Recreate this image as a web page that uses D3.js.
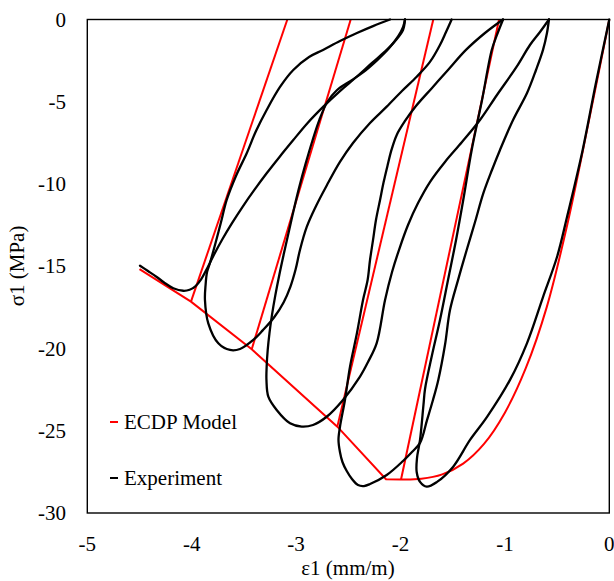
<!DOCTYPE html>
<html>
<head>
<meta charset="utf-8">
<script src="https://cdn.jsdelivr.net/npm/d3@7"></script>
<style>
  html, body { margin: 0; padding: 0; background: #fff; }
  svg { display: block; }
  text { font-family: "Liberation Serif", "Times New Roman", serif; fill: #000; }
</style>
</head>
<body>
<div id="chart"></div>
<script>
// Axis ticks
const xTicks = [-5, -4, -3, -2, -1, 0];
const yTicks = [0, -5, -10, -15, -20, -25, -30];

// ECDP model, pre-peak branch (strain mm/m, stress MPa)
const modelAscending = [
  [0, 0], [-0.2, -6.3], [-0.4, -12.4], [-0.6, -17.5], [-0.8, -21.2],
  [-1.0, -23.9], [-1.2, -25.8], [-1.4, -27.0], [-1.6, -27.65], [-1.8, -27.92],
  [-1.995, -27.96]
];
// ECDP model, softening branch
const modelSoftening = [
  [-1.995, -27.96], [-2.139, -27.95], [-2.605, -24.75], [-3.425, -20.05],
  [-4.007, -17.15], [-4.50, -15.17]
];
// ECDP model, unloading branches (envelope point -> zero stress)
const modelUnloading = [
  [[-4.007, -17.15], [-3.084, 0]],
  [[-3.425, -20.05], [-2.477, 0]],
  [[-2.605, -24.75], [-1.686, 0]],
  [[-1.995, -27.96], [-1.056, 0]]
];

// Experiment: first loading to the peak and unloading
const expLoading = [
  [0, 0], [-0.132, -3.98], [-0.255, -7.93], [-0.405, -12.01], [-0.501, -14.44],
  [-0.635, -16.87], [-0.788, -19.67], [-0.951, -21.91], [-1.171, -24.16],
  [-1.334, -25.56], [-1.497, -27.20], [-1.650, -28.11], [-1.749, -28.40],
  [-1.813, -28.11], [-1.845, -27.51], [-1.842, -26.66], [-1.813, -25.56],
  [-1.780, -23.43], [-1.765, -22.46], [-1.698, -20.40], [-1.622, -18.27],
  [-1.545, -15.84], [-1.468, -13.40], [-1.399, -10.97], [-1.318, -7.93],
  [-1.219, -4.89], [-1.126, -1.85], [-1.076, -0.94], [-1.018, 0]
];
// Experiment: cycle through the second peak
const expCycle1 = [
  [-1.018, 0], [-1.191, -0.82], [-1.373, -1.85], [-1.545, -3.07], [-1.698, -4.16],
  [-1.852, -5.26], [-1.960, -6.20], [-2.035, -7.00], [-2.085, -7.90], [-2.125, -8.90],
  [-2.162, -9.90], [-2.196, -10.97], [-2.235, -12.19], [-2.263, -13.40], [-2.292, -14.62],
  [-2.315, -15.84], [-2.359, -17.05], [-2.417, -19.06], [-2.484, -21.12],
  [-2.532, -23.13], [-2.580, -24.77], [-2.594, -25.56], [-2.580, -26.29],
  [-2.556, -26.90], [-2.515, -27.45], [-2.465, -27.93], [-2.407, -28.30],
  [-2.350, -28.36], [-2.292, -28.24], [-2.132, -27.69], [-1.976, -26.84],
  [-1.890, -26.29], [-1.813, -25.74], [-1.746, -24.35], [-1.689, -23.13],
  [-1.638, -21.91], [-1.574, -19.79], [-1.526, -17.66], [-1.449, -15.84],
  [-1.366, -14.01], [-1.286, -12.31], [-1.207, -10.57], [-1.124, -9.15],
  [-1.047, -7.93], [-0.922, -6.11], [-0.788, -4.47], [-0.702, -3.07],
  [-0.635, -1.85], [-0.597, -0.82], [-0.578, 0]
];
// Experiment: cycle reaching -24.7 MPa
const expCycle2 = [
  [-0.578, 0], [-0.664, -0.76], [-0.760, -1.55], [-0.887, -2.87], [-1.076, -4.59],
  [-1.239, -6.11], [-1.411, -7.45], [-1.574, -8.66], [-1.718, -9.88], [-1.832, -11.16],
  [-1.928, -12.49], [-2.005, -13.83], [-2.081, -15.35], [-2.148, -17.05],
  [-2.228, -19.67], [-2.311, -20.82], [-2.388, -21.71], [-2.551, -23.13],
  [-2.707, -24.15], [-2.838, -24.65], [-2.946, -24.75], [-3.058, -24.55],
  [-3.186, -23.74], [-3.266, -22.93], [-3.284, -21.91], [-3.282, -21.11],
  [-3.272, -20.09], [-3.255, -19.06], [-3.232, -18.0], [-3.200, -16.8],
  [-3.160, -15.5], [-3.116, -14.2], [-3.070, -12.9], [-3.020, -11.5],
  [-2.966, -10.1], [-2.908, -8.75], [-2.845, -7.40], [-2.777, -6.10],
  [-2.700, -5.00], [-2.610, -4.30], [-2.470, -3.70], [-2.356, -3.20],
  [-2.220, -2.45], [-2.110, -1.75], [-2.020, -1.00], [-1.975, -0.45], [-1.957, 0]
];
// Experiment: cycle reaching -20.1 MPa
const expCycle3 = [
  [-1.510, 0], [-1.564, -0.76], [-1.622, -1.55], [-1.718, -2.58], [-1.845, -3.48],
  [-1.986, -4.35], [-2.132, -5.30], [-2.292, -6.29], [-2.455, -7.51], [-2.580, -8.66],
  [-2.704, -10.06], [-2.809, -11.34], [-2.898, -12.61], [-2.963, -14.01],
  [-3.005, -15.20], [-3.055, -16.25], [-3.120, -17.20], [-3.210, -18.10],
  [-3.320, -18.90], [-3.410, -19.48], [-3.537, -20.03], [-3.633, -20.09],
  [-3.745, -19.68], [-3.841, -18.47], [-3.873, -17.05], [-3.867, -16.14],
  [-3.853, -15.35], [-3.825, -14.80], [-3.777, -13.71], [-3.719, -12.31],
  [-3.665, -10.97], [-3.576, -9.51], [-3.473, -8.13], [-3.384, -6.78],
  [-3.282, -5.50], [-3.154, -4.10], [-3.027, -3.07], [-2.876, -2.28],
  [-2.742, -1.85], [-2.580, -1.31], [-2.417, -0.82], [-2.263, -0.40], [-2.101, 0]
];
// Experiment: last reloading and post-peak softening
const expFinal = [
  [-1.957, 0], [-1.976, -0.64], [-2.043, -1.25], [-2.132, -1.85], [-2.273, -2.64],
  [-2.420, -3.48], [-2.580, -4.35], [-2.739, -5.30], [-2.898, -6.35], [-3.027, -7.33],
  [-3.157, -8.34], [-3.282, -9.35], [-3.400, -10.36], [-3.511, -11.37],
  [-3.614, -12.38], [-3.709, -13.39], [-3.795, -14.40], [-3.858, -15.20],
  [-3.910, -15.80], [-3.965, -16.22], [-4.020, -16.43], [-4.081, -16.49],
  [-4.176, -16.34], [-4.265, -15.99], [-4.335, -15.65], [-4.419, -15.29],
  [-4.495, -14.97]
];
const experiment = [expLoading, expCycle1, expCycle2, expCycle3, expFinal];

const W = 614, H = 581;
const x = d3.scaleLinear().domain([-5, 0]).range([87.3, 609.3]);
const y = d3.scaleLinear().domain([-30, 0]).range([513, 19.5]);

const svg = d3.select("#chart").append("svg")
  .attr("width", W).attr("height", H);
svg.append("rect").attr("width", W).attr("height", H).attr("fill", "#fff");

const straight = d3.line().x(d => x(d[0])).y(d => y(d[1]));
const smooth = d3.line().curve(d3.curveCatmullRom.alpha(0.5))
  .x(d => x(d[0])).y(d => y(d[1]));

// Tick labels
svg.append("g").selectAll("text").data(xTicks).join("text")
  .attr("x", d => x(d)).attr("y", 551)
  .attr("text-anchor", "middle").attr("font-size", 21)
  .text(d => d);
svg.append("g").selectAll("text").data(yTicks).join("text")
  .attr("x", 66).attr("y", d => y(d)).attr("dy", "0.34em")
  .attr("text-anchor", "end").attr("font-size", 21)
  .text(d => d);

// Axis titles
svg.append("text").attr("x", 348).attr("y", 575)
  .attr("text-anchor", "middle").attr("font-size", 21).text("ε1 (mm/m)");
svg.append("text").attr("transform", "translate(24,266) rotate(-90)")
  .attr("text-anchor", "middle").attr("font-size", 21).text("σ1 (MPa)");

const plot = svg.append("g");

// Model curves
plot.append("path").datum(modelAscending).attr("d", smooth)
  .attr("fill", "none").attr("stroke", "#ff0000").attr("stroke-width", 2);
plot.append("path").datum(modelSoftening).attr("d", straight)
  .attr("fill", "none").attr("stroke", "#ff0000").attr("stroke-width", 2);
plot.selectAll(".unl").data(modelUnloading).join("path").attr("class", "unl")
  .attr("d", straight).attr("fill", "none").attr("stroke", "#ff0000").attr("stroke-width", 2);

// Experimental loops
plot.selectAll(".exp").data(experiment).join("path").attr("class", "exp")
  .attr("d", smooth)
  .attr("fill", "none").attr("stroke", "#000").attr("stroke-width", 2.3)
  .attr("stroke-linejoin", "round").attr("stroke-linecap", "round");

// Plot frame
svg.append("rect")
  .attr("x", x(-5)).attr("y", y(0))
  .attr("width", x(0) - x(-5)).attr("height", y(-30) - y(0))
  .attr("fill", "none").attr("stroke", "#000").attr("stroke-width", 1.4);

// Legend
const legend = [
  { label: "ECDP Model", color: "#ff0000", y: 422 },
  { label: "Experiment", color: "#000", y: 478 }
];
const lg = svg.append("g").selectAll("g").data(legend).join("g");
lg.append("line").attr("x1", 110).attr("x2", 118)
  .attr("y1", d => d.y).attr("y2", d => d.y)
  .attr("stroke", d => d.color).attr("stroke-width", 2);
lg.append("text").attr("x", 124).attr("y", d => d.y).attr("dy", "0.34em")
  .attr("font-size", 21).text(d => d.label);
</script>
</body>
</html>
